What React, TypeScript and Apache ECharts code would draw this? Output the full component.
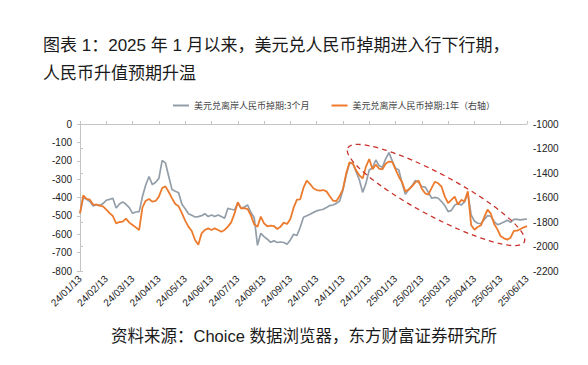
import React, { useEffect, useRef } from "react";
import * as echarts from "echarts";

const titleLine1 = "图表 1：2025 年 1 月以来，美元兑人民币掉期进入行下行期，";
const titleLine2 = "人民币升值预期升温";
const sourceText = "资料来源：Choice 数据浏览器，东方财富证券研究所";
const seriesNames = ["美元兑离岸人民币掉期:3个月", "美元兑离岸人民币掉期:1年（右轴）"];

const tickLabels = [
  "24/01/13", "24/02/13", "24/03/13", "24/04/13", "24/05/13", "24/06/13",
  "24/07/13", "24/08/13", "24/09/13", "24/10/13", "24/11/13", "24/12/13",
  "25/01/13", "25/02/13", "25/03/13", "25/04/13", "25/05/13", "25/06/13",
];

// samples every 1/8 of a month, starting 24/01/13
const samplesPerMonth = 8;

const swap3M = [
  -486, -400, -410, -422, -446, -439, -444, -433, -415, -410,
  -404, -457, -435, -424, -437, -455, -486, -479, -477, -395,
  -332, -286, -330, -317, -296, -198, -212, -286, -357, -366,
  -374, -437, -461, -488, -497, -506, -504, -499, -488, -504,
  -495, -504, -495, -504, -513, -459, -464, -468, -430, -459,
  -452, -441, -482, -510, -660, -595, -613, -627, -644, -636,
  -645, -642, -645, -655, -631, -600, -607, -562, -508, -499,
  -491, -481, -473, -468, -464, -455, -444, -441, -432, -419,
  -359, -277, -214, -214, -259, -305, -372, -323, -250, -238,
  -196, -227, -236, -190, -156, -201, -241, -250, -323, -383,
  -357, -337, -308, -316, -341, -343, -372, -404, -399, -404,
  -422, -444, -477, -470, -442, -432, -441, -424, -375, -495,
  -528, -540, -542, -519, -499, -502, -531, -548, -542, -533,
  -524, -535, -519, -519, -522, -519, -517,
];

const swap1Y = [
  -1729, -1582, -1612, -1618, -1658, -1658, -1667, -1672, -1699, -1727,
  -1751, -1811, -1800, -1797, -1773, -1805, -1824, -1844, -1865, -1680,
  -1626, -1612, -1634, -1628, -1593, -1522, -1509, -1555, -1607, -1653,
  -1672, -1727, -1789, -1838, -1873, -1947, -1985, -1892, -1865, -1852,
  -1865, -1852, -1865, -1879, -1865, -1838, -1803, -1732, -1639, -1688,
  -1686, -1694, -1746, -1819, -1838, -1756, -1811, -1835, -1830, -1833,
  -1857, -1838, -1805, -1816, -1775, -1683, -1618, -1615, -1520, -1463,
  -1490, -1525, -1539, -1544, -1539, -1550, -1590, -1626, -1629, -1588,
  -1531, -1403, -1313, -1321, -1378, -1419, -1444, -1348, -1286, -1370,
  -1332, -1365, -1370, -1324, -1307, -1310, -1370, -1430, -1476, -1550,
  -1536, -1509, -1476, -1463, -1528, -1566, -1577, -1522, -1471, -1484,
  -1512, -1593, -1645, -1620, -1593, -1658, -1620, -1631, -1550, -1824,
  -1863, -1841, -1827, -1759, -1699, -1732, -1816, -1860, -1917, -1933,
  -1944, -1928, -1873, -1871, -1857, -1844, -1833,
];

const leftTicks = { min: -800, max: 0, interval: 100 };
const rightTicks = { min: -2200, max: -1000, interval: 200 };

export default function App() {
  const ref = useRef<HTMLDivElement>(null);
  useEffect(() => {
    if (!ref.current) return;
    const chart = echarts.init(ref.current, undefined, { renderer: "svg" });
    const toPairs = (arr: number[]) => arr.map((v, i) => [i / samplesPerMonth, v]);
    const axisColor = "#c4c4c4";
    const labelFont = "Liberation Sans, Arial, sans-serif";
    const cjkFont = "Liberation Sans, Noto Sans CJK SC, sans-serif";
    chart.setOption({
      animation: false,
      backgroundColor: "#ffffff",
      title: [
        {
          text: titleLine1 + "\n" + titleLine2,
          left: 38,
          top: 26,
          textStyle: { fontSize: 17, fontWeight: "normal", color: "#1a1a1a", lineHeight: 28, fontFamily: cjkFont },
        },
        {
          text: sourceText,
          left: 106,
          top: 323,
          textStyle: { fontSize: 16.5, fontWeight: "normal", color: "#1a1a1a", fontFamily: cjkFont },
        },
      ],
      legend: {
        left: 168,
        top: 96,
        itemWidth: 16,
        itemHeight: 2,
        itemGap: 22,
        icon: "rect",
        textStyle: { fontSize: 9, color: "#444", fontFamily: "Noto Sans CJK SC, sans-serif" },
        data: seriesNames,
      },
      grid: { left: 80, right: 61, top: 124, bottom: 94, containLabel: false, outerBoundsMode: "none" },
      xAxis: [
        {
          type: "value",
          position: "bottom",
          min: 0,
          max: tickLabels.length - 1,
          interval: 1,
          axisLine: { show: false },
          axisTick: { show: false },
          splitLine: { show: false },
          axisLabel: {
            rotate: 45,
            fontSize: 10,
            color: "#222",
            margin: 6,
            hideOverlap: false,
            showMinLabel: true,
            showMaxLabel: true,
            fontFamily: labelFont,
            formatter: (v: number) => tickLabels[Math.round(v)] ?? "",
          },
        },
        {
          type: "value",
          position: "top",
          min: 0,
          max: tickLabels.length - 1,
          interval: 1,
          axisLine: { show: true, lineStyle: { color: axisColor, width: 1 } },
          axisTick: { show: true, length: 3, lineStyle: { color: axisColor } },
          axisLabel: { show: false },
          splitLine: { show: false },
        },
      ],
      yAxis: [
        {
          type: "value",
          position: "left",
          ...leftTicks,
          axisLine: { show: true, lineStyle: { color: axisColor } },
          axisTick: { show: true, length: 3, lineStyle: { color: axisColor } },
          splitLine: { show: false },
          axisLabel: { fontSize: 10, color: "#222", margin: 8, fontFamily: labelFont, formatter: (v: number) => String(v) },
        },
        {
          type: "value",
          position: "right",
          ...rightTicks,
          axisLine: { show: true, lineStyle: { color: axisColor } },
          axisTick: { show: true, length: 3, lineStyle: { color: axisColor } },
          splitLine: { show: false },
          axisLabel: { fontSize: 10, color: "#222", margin: 6, fontFamily: labelFont, formatter: (v: number) => String(v) },
        },
      ],
      series: [
        {
          name: seriesNames[0],
          type: "line",
          xAxisIndex: 0,
          yAxisIndex: 0,
          data: toPairs(swap3M),
          symbol: "none",
          showSymbol: false,
          itemStyle: { color: "#939ea8" },
          lineStyle: { color: "#939ea8", width: 1.7 },
        },
        {
          name: seriesNames[1],
          type: "line",
          xAxisIndex: 0,
          yAxisIndex: 1,
          data: toPairs(swap1Y),
          symbol: "none",
          showSymbol: false,
          itemStyle: { color: "#ec7b2e" },
          lineStyle: { color: "#ec7b2e", width: 1.8 },
        },
      ],
      graphic: [
        {
          type: "ellipse",
          x: 436,
          y: 195,
          rotation: -0.49,
          shape: { cx: 0, cy: 0, rx: 100, ry: 21 },
          style: { fill: "none", stroke: "#c8342c", lineWidth: 1.3, lineDash: [5, 4] },
          z: 100,
        },
      ],
    });
    return () => chart.dispose();
  }, []);
  return <div ref={ref} style={{ position: "fixed", left: 0, top: 0, width: 588, height: 365 }} />;
}
